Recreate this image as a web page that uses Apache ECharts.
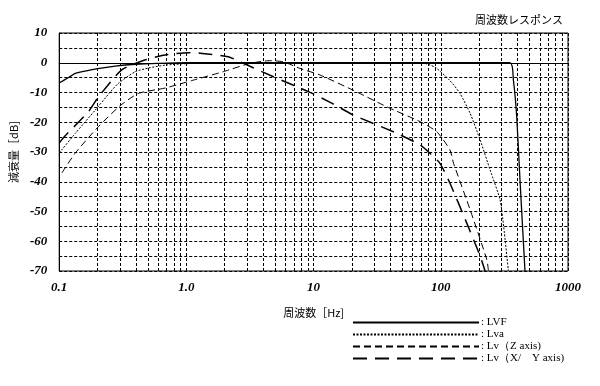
<!DOCTYPE html>
<html><head><meta charset="utf-8">
<script src="https://cdn.jsdelivr.net/npm/echarts@6/dist/echarts.min.js"></script>
<style>html,body{margin:0;padding:0;background:#fff}#c{width:600px;height:386px}</style>
</head><body><div id="c"></div>
<script>
// ---- data ----
const seriesNames = ['LVF', 'Lva', 'Lv（Z axis)', 'Lv（X/　Y axis)'];
const lvfFreq = [0.1, 0.12, 0.134, 0.17, 0.2, 0.275, 0.4, 0.6, 1, 350, 372, 395, 420, 459];
const lvfDb   = [-6.8, -4.8, -3.6, -2.6, -2.0, -1.1, -0.5, -0.2, 0, 0, -5.8, -18, -40, -70];
const lvaFreq = [0.1, 0.134, 0.192, 0.25, 0.292, 0.396, 0.5, 0.68, 1, 2, 70, 90, 118, 141, 170, 204, 244, 292, 312, 340];
const lvaDb   = [-30.3, -23.7, -15.9, -10, -6.9, -3, -1.8, -0.8, -0.3, 0, 0, -1.5, -6, -10.2, -17, -26, -36, -46, -55, -70];
const lvzFreq = [0.105, 0.134, 0.203, 0.3, 0.42, 0.68, 1.1, 1.95, 3.17, 4.55, 5.8, 7.8, 11.2, 20.4, 37.6, 68.7, 93, 118, 126, 170, 230, 237];
const lvzDb   = [-37, -30.3, -21.5, -14.5, -10.3, -8.5, -6, -3, -0.2, 0.7, 0.3, -1.9, -4.1, -9.2, -14.8, -19.8, -23.2, -29.3, -33.8, -49.4, -66.2, -70];
const lvxyFreq = [0.1, 0.11, 0.17, 0.204, 0.31, 0.47, 0.68, 1.03, 1.28, 2.13, 2.65, 3.92, 5.97, 9.1, 13.5, 20.4, 45, 68.7, 82, 98.5, 118, 160, 204, 223];
const lvxyDb   = [-27, -24.8, -16.4, -11.4, -2.4, 0.9, 2.6, 3.4, 3.2, 2, 0.3, -3, -6.4, -9.7, -13.3, -17.5, -23.7, -27.6, -30.4, -33.8, -40.5, -53.9, -65, -70];
const xTickLabels = {0.1: '0.1', 1: '1.0', 10: '10', 100: '100', 1000: '1000'};
const minorGridFreqs = [0.2,0.3,0.4,0.5,0.6,0.7,0.8,0.9, 2,3,4,5,6,7,8,9, 20,30,40,50,60,70,80,90, 200,300,400,500,600,700,800,900];

const zip = (f, d) => f.map((v, i) => [v, d[i]]);
const gridLine = {color: '#000', width: 1, type: [3, 2]};
const serif = 'Liberation Serif';

const chart = echarts.init(document.getElementById('c'));
chart.setOption({
  animation: false,
  title: {
    text: '周波数レスポンス', right: 32, top: 9,
    textStyle: {fontSize: 11, fontWeight: 'normal', color: '#000', fontFamily: 'Noto Sans CJK JP'}
  },
  grid: {left: 59, right: 32, top: 33, bottom: 115, show: true, borderColor: '#000', borderWidth: 1, backgroundColor: 'transparent'},
  legend: {
    orient: 'vertical', left: 352, top: 317, padding: 0, itemWidth: 126, itemHeight: 11, itemGap: 1,
    itemStyle: {color: 'transparent', borderColor: 'transparent', borderWidth: 0, opacity: 0},
    data: seriesNames,
    formatter: n => ': ' + n,
    textStyle: {fontFamily: serif, fontSize: 11, color: '#000', lineHeight: 11, padding: [0, 0, 0, -3]}
  },
  xAxis: {
    type: 'log', logBase: 10, min: 0.1, max: 1000,
    name: '周波数［Hz]', nameLocation: 'middle', nameGap: 36,
    nameTextStyle: {fontFamily: 'Noto Sans CJK JP', fontSize: 11, color: '#000'},
    axisLine: {lineStyle: {color: '#000', width: 1}},
    axisTick: {show: false},
    axisLabel: {margin: 10, formatter: v => xTickLabels[+v.toPrecision(3)] || '', fontFamily: serif, fontStyle: 'italic', fontWeight: 'bold', fontSize: 13, color: '#000'},
    splitLine: {show: true, lineStyle: gridLine}
  },
  yAxis: {
    type: 'value', min: -70, max: 10, interval: 10,
    name: '減衰量［dB]', nameLocation: 'middle', nameGap: 40,
    nameTextStyle: {fontFamily: 'Noto Sans CJK JP', fontSize: 11, color: '#000'},
    axisLine: {show: true, lineStyle: {color: '#000', width: 1}},
    axisTick: {show: false},
    axisLabel: {margin: 12, fontFamily: serif, fontStyle: 'italic', fontWeight: 'bold', fontSize: 13, color: '#000'},
    splitLine: {show: true, lineStyle: gridLine},
    minorTick: {show: false, splitNumber: 2},
    minorSplitLine: {show: true, lineStyle: gridLine}
  },
  series: [
    {name: seriesNames[0], type: 'line', data: zip(lvfFreq, lvfDb), showSymbol: false, symbol: 'none', smooth: 0.2,
     lineStyle: {color: '#000', width: 1.3, type: 'solid'}, itemStyle: {color: '#000'},
     markLine: {silent: true, symbol: 'none', label: {show: false}, lineStyle: gridLine,
       data: minorGridFreqs.map(f => ({xAxis: f}))}},
    {name: seriesNames[1], type: 'line', data: zip(lvaFreq, lvaDb), showSymbol: false, symbol: 'none', smooth: 0.2,
     lineStyle: {color: '#000', width: 1, type: [2, 1.5]}, itemStyle: {color: '#000'}},
    {name: seriesNames[2], type: 'line', data: zip(lvzFreq, lvzDb), showSymbol: false, symbol: 'none', smooth: 0.2,
     lineStyle: {color: '#000', width: 1, type: [7, 4]}, itemStyle: {color: '#000'}},
    {name: seriesNames[3], type: 'line', data: zip(lvxyFreq, lvxyDb), showSymbol: false, symbol: 'none', smooth: 0.2,
     lineStyle: {color: '#000', width: 1.5, type: [14, 8]}, itemStyle: {color: '#000'}}
  ]
});
</script></body></html>
